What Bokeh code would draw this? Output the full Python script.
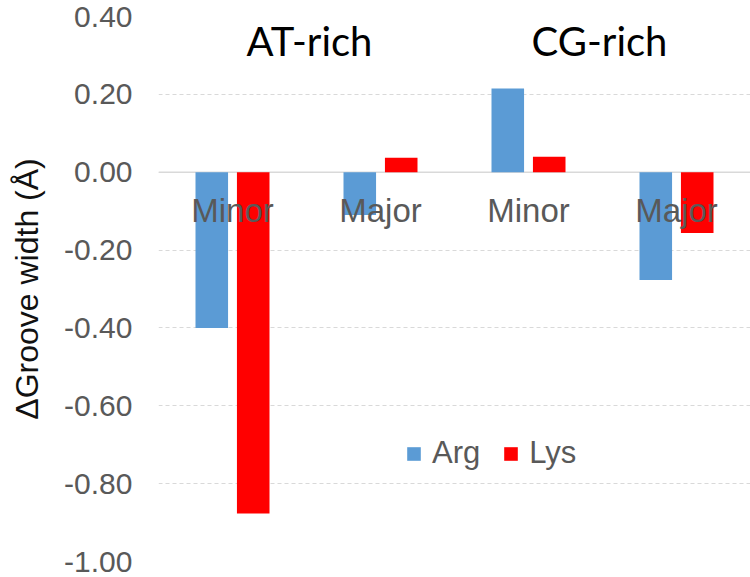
from bokeh.plotting import figure
from bokeh.models import (FactorRange, ColumnDataSource, FixedTicker, NumeralTickFormatter,
                          Span, Legend, LegendItem, Range1d)
from bokeh.transform import dodge
from bokeh.core.properties import value
from bokeh.embed import file_html
from bokeh.resources import INLINE

# ---- data ----
groups = ["AT-rich", "AT-rich", "CG-rich", "CG-rich"]
grooves = ["Minor", "Major", "Minor", "Major"]
arg = [-0.40, -0.11, 0.215, -0.277]
lys = [-0.877, 0.037, 0.040, -0.156]
group_names = ["AT-rich", "CG-rich"]
y_ticks = [-1.0, -0.8, -0.6, -0.4, -0.2, 0.0, 0.2, 0.4]
series_names = ["Arg", "Lys"]
colors = ["#5B9BD5", "#FF0000"]

factors = list(zip(groups, grooves))
src = ColumnDataSource(dict(x=factors, arg=arg, lys=lys, label=grooves, zero=[0.0] * len(grooves)))
gsrc = ColumnDataSource(dict(x=group_names, y=[0.338] * len(group_names), label=group_names,
                             dx=[3, -3]))

xr = FactorRange(*factors, range_padding=0, group_padding=0, subgroup_padding=0, factor_padding=0)
p = figure(width=750, height=577, x_range=xr, y_range=Range1d(-1.0, 0.4),
           output_backend="svg", toolbar_location=None,
           min_border_left=158, min_border_right=0, min_border_top=16, min_border_bottom=16)
p.outline_line_color = None
p.background_fill_color = "white"
p.border_fill_color = "white"

r_arg = p.vbar(x=dodge("x", -0.14, range=p.x_range), top="arg", width=0.22, source=src,
               fill_color=colors[0], line_color=None)
r_lys = p.vbar(x=dodge("x", 0.14, range=p.x_range), top="lys", width=0.22, source=src,
               fill_color=colors[1], line_color=None)

p.add_layout(Span(location=0, dimension="width", line_color="#d9d9d9", line_width=1.5, level="underlay"))

# category labels at the zero line
p.text(x="x", y="zero", text="label", source=src, text_font=value("Liberation Sans"),
       text_font_size="33px", text_color="#595959", text_align="center",
       text_baseline="alphabetic", y_offset=38)

# group labels
p.text(x="x", y="y", text="label", source=gsrc, text_font=value("Lato"),
       text_font_size="40px", text_color="#000000", text_align="center",
       text_baseline="alphabetic", x_offset="dx")

p.xaxis.visible = False
p.xgrid.visible = False
p.ygrid.grid_line_color = "#d9d9d9"
p.ygrid.grid_line_dash = "4 3"
p.ygrid.grid_line_width = 1

ax = p.yaxis[0]
ax.ticker = FixedTicker(ticks=y_ticks)
ax.formatter = NumeralTickFormatter(format="0.00")
ax.axis_line_color = None
ax.major_tick_line_color = None
ax.minor_tick_line_color = None
ax.major_tick_out = 0
ax.major_tick_in = 0
ax.major_label_standoff = 26
ax.major_label_text_font = "Liberation Sans"
ax.major_label_text_font_size = "30px"
ax.major_label_text_color = "#595959"
ax.axis_label = "ΔGroove width (Å)"
ax.axis_label_text_font = "Liberation Sans"
ax.axis_label_text_font_size = "32px"
ax.axis_label_text_font_style = "normal"
ax.axis_label_text_color = "#111111"
ax.axis_label_standoff = 16

legend = Legend(items=[LegendItem(label=series_names[0], renderers=[r_arg]),
                       LegendItem(label=series_names[1], renderers=[r_lys])],
                orientation="horizontal", location=(247, 90),
                glyph_width=17, glyph_height=17, label_standoff=10, spacing=22,
                label_text_font="Liberation Sans", label_text_font_size="31px",
                label_text_color="#595959", padding=0, margin=0,
                border_line_color=None, background_fill_alpha=0)
p.add_layout(legend)

open("out.html", "w").write(file_html(p, INLINE))
